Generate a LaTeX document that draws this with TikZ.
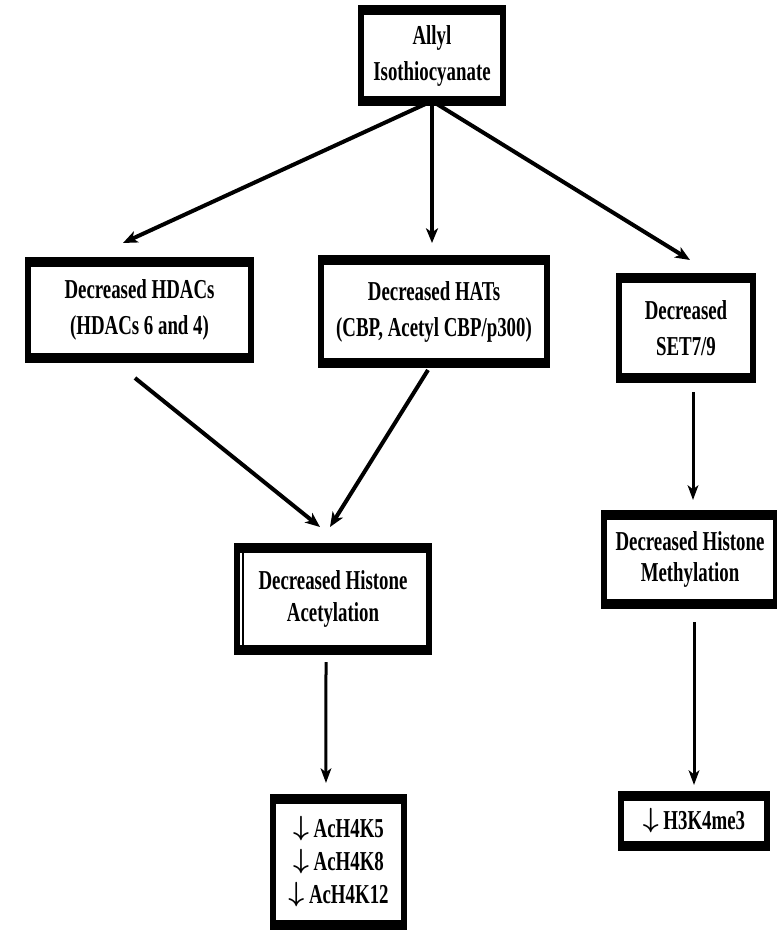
\documentclass[tikz,border=0pt]{standalone}
\usepackage{fontspec}
\setmainfont{Liberation Serif}[FakeStretch=0.69]
\usepackage{amsmath}
\usepackage{bm}
\usepackage{tikz}
\usetikzlibrary{arrows.meta}

\tikzset{
  stepbox/.style={draw, line width=4.5pt, outer sep=0pt, fill=white, align=center, inner sep=0pt,
    font=\fontsize{20.5}{27}\selectfont\bfseries},
  tightbox/.style={stepbox, font=\fontsize{20.5}{23.5}\selectfont\bfseries},
  arr/.style={-{Stealth[length=11pt,width=9pt,inset=3pt]}, line width=3pt},
  varr/.style={-{Stealth[length=11pt,width=8pt,inset=3pt]}, line width=2.25pt}
}
\newcommand{\dnarr}{\raisebox{0.15ex}{\(\bm{\downarrow}\)}}

\begin{document}
\begin{tikzpicture}[x=0.75pt,y=-0.75pt]
        \useasboundingbox (0,0) rectangle (776,932);

        % boxes
        \node[stepbox, minimum width=106.5pt, minimum height=68.25pt] (ait) at (432,55.5) {Allyl\\Isothiocyanate};
        \node[stepbox, minimum width=167.25pt, minimum height=72pt] (hdac) at (139.5,310) {Decreased HDACs\\(HDACs 6 and 4)};
        \node[stepbox, minimum width=169.5pt, minimum height=77.25pt] (hat) at (434,311.5) {Decreased HATs\\(CBP, Acetyl CBP/p300)};
        \node[stepbox, minimum width=100.5pt, minimum height=75pt] (set) at (686,328) {Decreased\\SET7/9};
        \node[tightbox, minimum width=144pt, minimum height=76.5pt] (ace) at (333,599) {Decreased Histone\\Acetylation};
        \node[tightbox, minimum width=129pt, minimum height=66.75pt] (met) at (690,559.5) {Decreased Histone\\Methylation};
        \node[tightbox, font=\fontsize{20.5}{24.75}\selectfont\bfseries, minimum width=98.25pt, minimum height=94.5pt] (ach) at (338.5,862) {\dnarr\ AcH4K5\\\dnarr\ AcH4K8\\\dnarr\ AcH4K12};
        \node[stepbox, minimum width=109.5pt, minimum height=37.5pt] (h3k) at (694,821) {\dnarr\ H3K4me3};

        % heavy top and bottom edges
        \foreach \n in {ait,hdac,hat,set,ace,met,ach,h3k}{
            \draw[line width=7.5pt] ([xshift=-2.25pt]\n.north west) -- ([xshift=2.25pt]\n.north east);
            \draw[line width=7.5pt] ([xshift=-2.25pt]\n.south west) -- ([xshift=2.25pt]\n.south east);
        }
        \draw[line width=1pt] ([xshift=4.5pt,yshift=-3.75pt]ace.north west) -- ([xshift=4.5pt,yshift=3.75pt]ace.south west);

        % arrows
        \draw[arr] (ait.south) -- ([xshift=-12.4pt,yshift=14.25pt]hdac.north);
        \draw[arr] (ait.south) -- ([xshift=-1.5pt,yshift=12.75pt]hat.north);
        \draw[arr] (ait.south) -- ([xshift=3pt,yshift=13.5pt]set.north);
        \draw[arr] ([xshift=-3.4pt,yshift=-15pt]hdac.south) -- ([xshift=-9.75pt,yshift=15.75pt]ace.north);
        \draw[arr] ([xshift=-4.5pt,yshift=-5.25pt]hat.south) -- ([xshift=-2.25pt,yshift=15.75pt]ace.north);
        \draw[varr] ([xshift=5.25pt,yshift=-10.5pt]set.south) -- ([xshift=2.25pt,yshift=11.25pt]met.north);
        \draw[varr] ([xshift=3pt,yshift=-13.5pt]met.south) -- ([yshift=8.25pt]h3k.north);
        \draw[varr] ([xshift=-5.25pt,yshift=-9pt]ace.south) -- ([xshift=-9.4pt,yshift=12pt]ach.north);
\end{tikzpicture}
\end{document}
